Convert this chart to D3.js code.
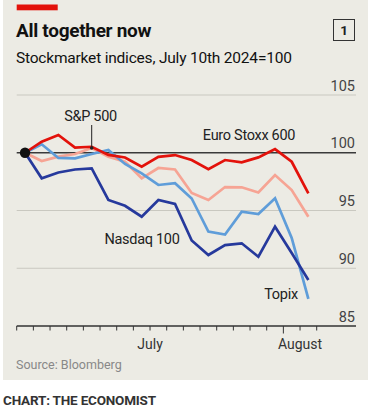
<!DOCTYPE html>
<html>
<head>
<meta charset="utf-8">
<script src="https://cdn.jsdelivr.net/npm/d3@7"></script>
<style>
  body { margin: 0; background: #fff; }
  svg text { font-family: Roboto, "Noto Sans", sans-serif; }
</style>
</head>
<body>
<div id="chart"></div>
<script>
const days = ["Jul 10", "Jul 11", "Jul 12", "Jul 15", "Jul 16", "Jul 17", "Jul 18", "Jul 19", "Jul 22",
  "Jul 23", "Jul 24", "Jul 25", "Jul 26", "Jul 29", "Jul 30", "Jul 31", "Aug 1", "Aug 2"];
const months = ["July", "August"];
const yTicks = [85, 90, 95, 100, 105];

const euroStoxx = [100, 100.96, 101.54, 100.44, 100.52, 99.81, 99.59, 98.79, 99.65, 99.8, 99.37, 98.57, 99.37, 99.17, 99.6, 100.32, 99.22, 96.49];
const sp500 = [100, 99.29, 99.66, 99.89, 100.41, 99.66, 99.22, 97.79, 98.68, 98.55, 96.52, 95.91, 97.03, 97.01, 96.56, 98.07, 96.77, 94.46];
const topix = [100, 100.73, 99.55, 99.52, 99.89, 100.24, 99.03, 98.22, 97.21, 97.36, 96.04, 93.18, 92.92, 94.9, 94.7, 96.06, 92.62, 87.34];
const nasdaq = [100, 97.79, 98.29, 98.55, 98.64, 95.91, 95.41, 94.46, 95.91, 95.56, 92.4, 91.15, 92.01, 92.16, 91.0, 93.6, 91.32, 88.98];

const series = [
  { name: "S&P 500", values: sp500, color: "#f6a494" },
  { name: "Topix", values: topix, color: "#5f9dd9" },
  { name: "Nasdaq 100", values: nasdaq, color: "#26399c" },
  { name: "Euro Stoxx 600", values: euroStoxx, color: "#e3120b" }
];

const W = 375, H = 412;
const svg = d3.select("#chart").append("svg")
  .attr("width", W)
  .attr("height", H);

// panel
svg.append("rect")
  .attr("x", 3).attr("y", 0)
  .attr("width", 365).attr("height", 380)
  .attr("fill", "#ecebe4");

svg.append("rect")
  .attr("x", 16.7).attr("y", 4.5)
  .attr("width", 41).attr("height", 5.8)
  .attr("fill", "#e3120b");

svg.append("text")
  .attr("x", 16).attr("y", 37)
  .style("font-size", "19px")
  .style("font-weight", "bold")
  .style("letter-spacing", "-0.3px")
  .attr("fill", "#111")
  .text("All together now");

svg.append("text")
  .attr("x", 16).attr("y", 63)
  .style("font-size", "15.5px")
  .style("letter-spacing", "-0.2px")
  .attr("fill", "#111")
  .text("Stockmarket indices, July 10th 2024=100");

svg.append("rect")
  .attr("x", 333.5).attr("y", 19.5)
  .attr("width", 21).attr("height", 21)
  .attr("fill", "none")
  .attr("stroke", "#333")
  .attr("stroke-width", 1);

svg.append("text")
  .attr("x", 344).attr("y", 35)
  .attr("text-anchor", "middle")
  .style("font-size", "13.5px")
  .style("font-weight", "bold")
  .attr("fill", "#222")
  .text("1");

// scales
const x = d3.scaleBand()
  .domain(days)
  .range([16.7, 316.7]);

const y = d3.scaleLinear()
  .domain([85, 105])
  .range([326, 95]);

const xc = d => x(d) + x.bandwidth() / 2;
const left = 16.7, right = 356;

// gridlines
svg.append("g")
  .selectAll("line")
  .data(yTicks.filter(d => d !== 85 && d !== 100))
  .enter().append("line")
  .attr("x1", left).attr("x2", right)
  .attr("y1", d => y(d)).attr("y2", d => y(d))
  .attr("stroke", "#c9c8c0")
  .attr("stroke-width", 1);

svg.append("line")
  .attr("x1", left).attr("x2", right)
  .attr("y1", y(100)).attr("y2", y(100))
  .attr("stroke", "#3a3a3a")
  .attr("stroke-width", 1.3);

svg.append("g")
  .selectAll("text")
  .data(yTicks)
  .enter().append("text")
  .attr("x", 355).attr("y", d => y(d) - 4.5)
  .attr("text-anchor", "end")
  .style("font-size", "14.5px")
  .attr("fill", "#444")
  .text(d => d);

// x axis
svg.append("line")
  .attr("x1", left).attr("x2", right)
  .attr("y1", y(85)).attr("y2", y(85))
  .attr("stroke", "#333")
  .attr("stroke-width", 1.3);

const tickPos = days.map(d => ({ day: d, pos: x(d) })).concat([{ day: "end", pos: x.range()[1] }]);
svg.append("g")
  .selectAll("line")
  .data(tickPos)
  .enter().append("line")
  .attr("x1", d => d.pos).attr("x2", d => d.pos)
  .attr("y1", y(85))
  .attr("y2", d => y(85) + (d.day === "Aug 1" ? 7.5 : 4.5))
  .attr("stroke", "#333")
  .attr("stroke-width", 1);

months.forEach(m => {
  const key = m.slice(0, 3);
  const inMonth = days.filter(d => d.startsWith(key));
  const x0 = x(inMonth[0]);
  const x1 = x(inMonth[inMonth.length - 1]) + x.bandwidth();
  svg.append("text")
    .attr("x", (x0 + x1) / 2)
    .attr("y", 349)
    .attr("text-anchor", "middle")
    .style("font-size", "14px")
    .attr("fill", "#333")
    .text(m);
});

// lines
const line = d3.line()
  .x((d, i) => xc(days[i]))
  .y(d => y(d));

svg.append("g")
  .selectAll("path")
  .data(series)
  .enter().append("path")
  .attr("d", d => line(d.values))
  .attr("fill", "none")
  .attr("stroke", d => d.color)
  .attr("stroke-width", 2.7)
  .attr("stroke-linejoin", "miter");

svg.append("circle")
  .attr("cx", xc(days[0]))
  .attr("cy", y(100))
  .attr("r", 5.2)
  .attr("fill", "#111");

// annotations
const spDay = days[4];
svg.append("line")
  .attr("x1", xc(spDay)).attr("x2", xc(spDay))
  .attr("y1", 125).attr("y2", y(sp500[4]))
  .attr("stroke", "#222")
  .attr("stroke-width", 1);
svg.append("circle")
  .attr("cx", xc(spDay)).attr("cy", y(sp500[4]))
  .attr("r", 1.8)
  .attr("fill", "#222");

const labels = [
  { text: "S&P 500", x: 90.5, y: 120.5 },
  { text: "Euro Stoxx 600", x: 249, y: 140 },
  { text: "Nasdaq 100", x: 142, y: 243.5 },
  { text: "Topix", x: 281, y: 298.5 }
];
svg.append("g")
  .selectAll("text")
  .data(labels)
  .enter().append("text")
  .attr("x", d => d.x).attr("y", d => d.y)
  .attr("text-anchor", "middle")
  .style("font-size", "14.5px")
  .style("letter-spacing", "-0.3px")
  .attr("fill", "#222")
  .text(d => d.text);

svg.append("text")
  .attr("x", 16).attr("y", 369)
  .style("font-size", "12.5px")
  .attr("fill", "#888")
  .text("Source: Bloomberg");

svg.append("text")
  .attr("x", 3).attr("y", 405)
  .style("font-size", "13.5px")
  .style("font-weight", "bold")
  .style("letter-spacing", "-0.2px")
  .attr("fill", "#333")
  .text("CHART: THE ECONOMIST");
</script>
</body>
</html>
